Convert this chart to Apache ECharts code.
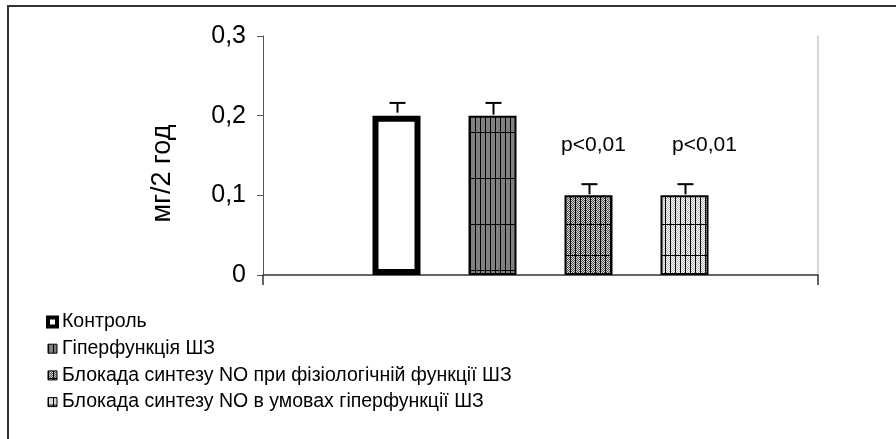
<!DOCTYPE html>
<html><head><meta charset="utf-8">
<script src="https://cdn.jsdelivr.net/npm/echarts@6/dist/echarts.min.js"></script>
<style>html,body{margin:0;padding:0;background:#fff}#c{width:896px;height:439px}</style>
</head><body><div id="c"></div>
<script>
var seriesNames = ['Контроль', 'Гіперфункція ШЗ', 'Блокада синтезу NO при фізіологічній функції ШЗ', 'Блокада синтезу NO в умовах гіперфункції ШЗ'];
var seriesValues = [0.2, 0.2, 0.1, 0.1];
var errorValues = [0.016, 0.016, 0.014, 0.014];
var pLabels = ['', '', 'p<0,01', 'p<0,01'];
var yTicks = [0, 0.1, 0.2, 0.3];
var categories = [''];

var FONT = "'Liberation Sans', Arial, sans-serif";
function mk(w, h, draw) { var c = document.createElement('canvas'); c.width = w; c.height = h; var g = c.getContext('2d'); draw(g, w, h); return c; }
function checker(g, w, h, a, b) { for (var y = 0; y < h; y++) for (var x = 0; x < w; x++) { g.fillStyle = ((x + y) % 2 === 0) ? a : b; g.fillRect(x, y, 1, 1); } }
var pat2 = mk(5, 46, function (g, w, h) { g.fillStyle = '#808080'; g.fillRect(0, 0, w, h); g.fillStyle = '#000'; g.fillRect(0, 0, 1, h); g.fillRect(0, 40, w, 1); });
var pat3 = mk(10, 62, function (g, w, h) { checker(g, w, h, '#505050', '#d8d8d8'); g.fillStyle = '#000'; g.fillRect(0, 0, 1, h); g.fillRect(5, 0, 1, h); g.fillRect(0, 7, w, 1); g.fillRect(0, 38, w, 1); });
var pat4 = mk(10, 62, function (g, w, h) { checker(g, w, h, '#b4b4b4', '#ffffff'); g.fillStyle = '#000'; g.fillRect(0, 0, 1, h); g.fillRect(5, 0, 1, h); g.fillRect(0, 7, w, 1); g.fillRect(0, 38, w, 1); });
var fills = ['#ffffff', { image: pat2, repeat: 'repeat' }, { image: pat3, repeat: 'repeat' }, { image: pat4, repeat: 'repeat' }];
var borders = [6, 2, 2, 2];
var labelOffsets = [[0, 0], [0, 0], [5, 0], [20, 0]];

var BAR_W = 48;
var series = seriesNames.map(function (n, i) {
  return {
    name: n, type: 'bar', barWidth: BAR_W, barGap: '100%',
    data: [{ value: seriesValues[i] }],
    itemStyle: { color: fills[i], borderColor: '#000', borderWidth: borders[i] },
    label: { show: pLabels[i] !== '', position: 'top', distance: 40, offset: labelOffsets[i],
      formatter: function () { return pLabels[i]; }, color: '#000', fontSize: 21, fontFamily: FONT },
    emphasis: { disabled: true }, z: 2
  };
});
series.push({
  type: 'custom', name: 'err', z: 3, silent: true,
  data: seriesValues.map(function (v, i) { return [0, v, v + errorValues[i], i]; }),
  renderItem: function (params, api) {
    var i = api.value(3);
    var off = (i - 1.5) * BAR_W * 2;
    var lo = api.coord([0, api.value(1)]);
    var hi = api.coord([0, api.value(2)]);
    var x = Math.round(lo[0] + off) + 0.5;
    var y0 = lo[1] - borders[i] / 2;
    return { type: 'group', children: [
      { type: 'line', shape: { x1: x, y1: y0, x2: x, y2: hi[1] }, style: { stroke: '#000', lineWidth: 2 } },
      { type: 'line', shape: { x1: x - 8, y1: hi[1], x2: x + 8, y2: hi[1] }, style: { stroke: '#000', lineWidth: 2 } }
    ] };
  }
});

var chart = echarts.init(document.getElementById('c'), null, { renderer: 'canvas' });
chart.setOption({
  animation: false,
  backgroundColor: '#fff',
  textStyle: { fontFamily: FONT },
  grid: { left: 263, right: 78, top: 36, bottom: 164, containLabel: false },
  xAxis: { type: 'category', data: categories,
    axisLine: { lineStyle: { color: '#333', width: 1.5 } },
    axisTick: { show: true, length: 10, lineStyle: { color: '#333', width: 1.5 } },
    axisLabel: { show: false }, splitLine: { show: false } },
  yAxis: [{ type: 'value', min: 0, max: 0.3, interval: 0.1,
    name: 'мг/2 год', nameLocation: 'middle', nameGap: 87, nameRotate: 90,
    nameTextStyle: { fontSize: 27, color: '#000', fontFamily: FONT, padding: [0, 36, 0, 0] },
    axisLine: { show: true, lineStyle: { color: '#555', width: 1 } },
    axisTick: { show: true, length: 6, lineStyle: { color: '#555' } },
    axisLabel: { fontSize: 25, color: '#000', margin: 17, fontFamily: FONT,
      formatter: function (v) { return String(+v.toFixed(1)).replace('.', ','); } },
    splitLine: { show: false } },
    { type: 'value', min: 0, max: 0.3, interval: 0.1, position: 'right',
    axisLine: { show: true, lineStyle: { color: '#c8c8c8', width: 1.5 } },
    axisTick: { show: false }, axisLabel: { show: false }, splitLine: { show: false } }],
  legend: {
    orient: 'vertical', left: 41, top: 307, itemWidth: 9, itemHeight: 9, itemGap: 6.7,
    textStyle: { fontSize: 19.5, color: '#000', fontFamily: FONT, lineHeight: 20 },
    data: seriesNames.map(function (n, i) { return { name: n, icon: 'rect', itemStyle: { borderColor: '#000', borderWidth: i === 0 ? 4 : 1 } }; }),
    selectedMode: false
  },
  graphic: [{ type: 'rect', shape: { x: 8, y: 6, width: 1000, height: 1000 }, style: { fill: null, stroke: '#333', lineWidth: 2 }, silent: true, z: 100 }],
  series: series
});
</script></body></html>
